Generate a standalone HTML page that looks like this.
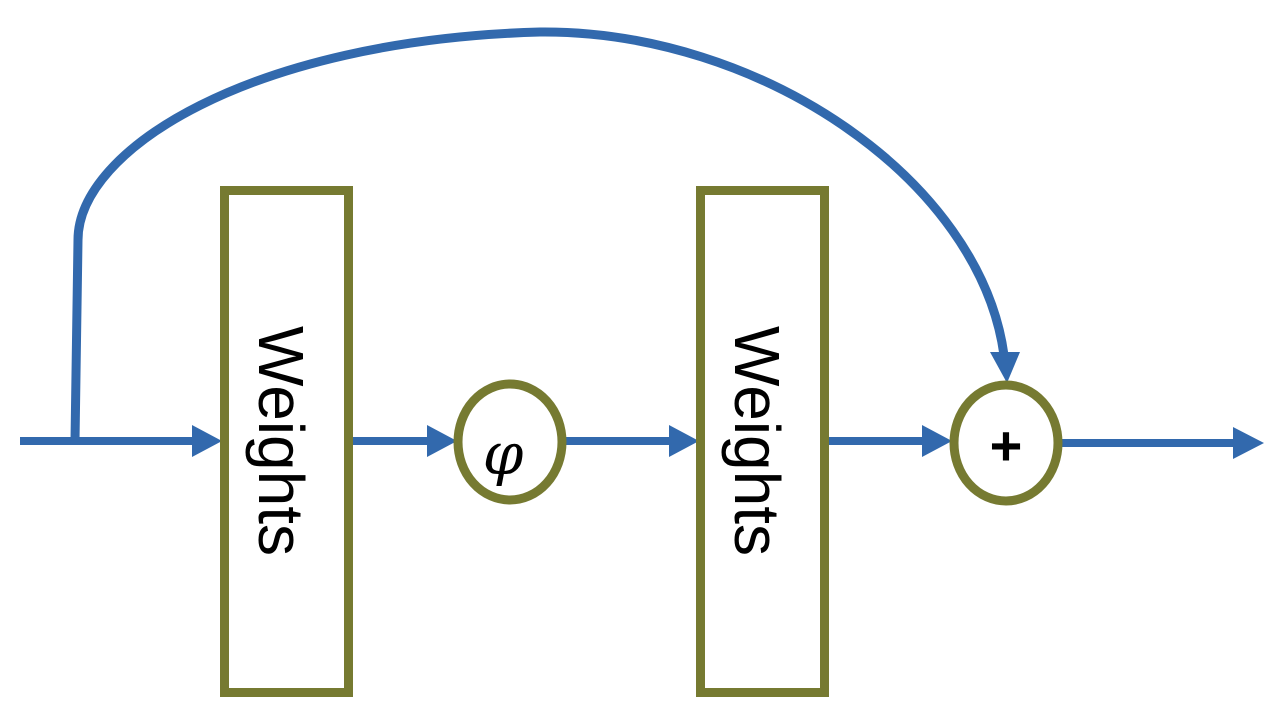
<!DOCTYPE html>
<html><head><meta charset="utf-8"><style>body{margin:0;background:#fff}svg{display:block}</style></head><body>
<svg width="1282" height="720" viewBox="0 0 1282 720" xmlns="http://www.w3.org/2000/svg">
<g fill="none" stroke="#3269ad" stroke-width="8">
<path d="M20,441 H195"/>
<path d="M352,441 H430"/>
<path d="M565,441 H672"/>
<path d="M828,441 H925"/>
<path d="M1060,443 H1236"/>
<path d="M75,441 L78,240 C78,150 250,40 540,32 C760,30 980,180 1004,355" stroke-width="9"/>
</g>
<g fill="#3269ad">
<polygon points="192,425 222,441 192,457"/>
<polygon points="427,425 457,441 427,457"/>
<polygon points="669,425 699,441 669,457"/>
<polygon points="922,425 952,441 922,457"/>
<polygon points="1233,427 1264,443 1233,459"/>
<polygon points="990,352 1020,352 1007,383"/>
</g>
<g fill="#fff" stroke="#767a31" stroke-width="9">
<rect x="224.5" y="190.5" width="124" height="502"/>
<rect x="700.5" y="190.5" width="124" height="502"/>
<ellipse cx="510" cy="442" rx="52" ry="58"/>
<ellipse cx="1006" cy="443" rx="52" ry="58"/>
</g>
<g font-family="Liberation Sans, sans-serif" fill="#000">
<text x="0" y="0" font-size="64" text-anchor="middle" dominant-baseline="central" transform="translate(281,441) rotate(90)">Weights</text>
<text x="0" y="0" font-size="64" text-anchor="middle" dominant-baseline="central" transform="translate(757,441) rotate(90)">Weights</text>
<text x="503" y="474" font-size="58" font-family="DejaVu Serif, serif" font-style="italic" text-anchor="middle">φ</text>
<text x="1006" y="465" font-size="56" font-weight="bold" text-anchor="middle">+</text>
</g>
</svg>
</body></html>
